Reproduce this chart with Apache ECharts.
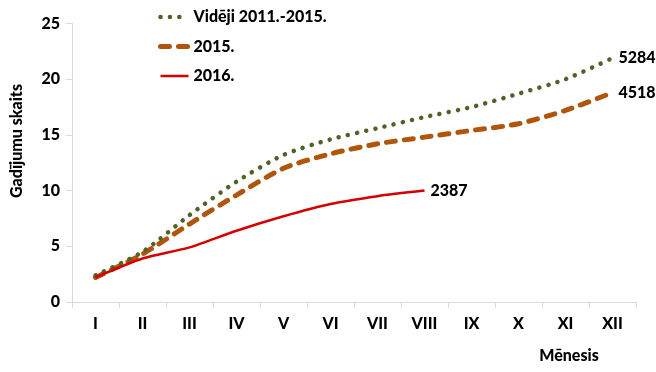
<!DOCTYPE html>
<html>
<head>
<meta charset="utf-8">
<script src="https://cdn.jsdelivr.net/npm/echarts@6/dist/echarts.min.js"></script>
<style>
html,body{margin:0;padding:0;background:#fff;}
#chart{width:656px;height:372px;}
</style>
</head>
<body>
<div id="chart"></div>
<script>
var months = ['I','II','III','IV','V','VI','VII','VIII','IX','X','XI','XII'];
var seriesNames = ['Vidēji 2011.-2015.', '2015.', '2016.'];
var avg2011_2015 = [2.4, 4.5, 7.8, 10.8, 13.2, 14.6, 15.6, 16.6, 17.5, 18.7, 20.0, 21.9];
var y2015 = [2.2, 4.3, 7.0, 9.6, 12.0, 13.3, 14.2, 14.8, 15.4, 16.0, 17.2, 18.8];
var y2016 = [2.2, 3.9, 4.9, 6.4, 7.7, 8.8, 9.5, 10.0];
var totals = ['5284', '4518', '2387'];
var yTicks = [0, 5, 10, 15, 20, 25];
var yTitle = 'Gadījumu skaits';
var xTitle = 'Mēnesis';

var FONT = 'Lato, "Open Sans", sans-serif';
var chart = echarts.init(document.getElementById('chart'), null, {renderer: 'canvas'});

function endLbl(i) {
  return {show: true, formatter: function () { return totals[i]; }, color: '#000', fontFamily: FONT, fontWeight: 900, fontSize: 16, distance: 6};
}

var styles = [
  {color: '#4f6228', width: 4.5, type: [0.1, 9.3], cap: 'round'},
  {color: '#b0560c', width: 5, type: [9, 9], cap: 'round'},
  {color: '#d40000', width: 2.5, type: 'solid', cap: 'butt'}
];

chart.setOption({
  animation: false,
  grid: {left: 72, right: 20, top: 23.5, bottom: 70, containLabel: false},
  legend: {
    orient: 'vertical', left: 158, top: 9, padding: 0,
    itemWidth: 28, itemHeight: 14, itemGap: 13.5,
    itemStyle: {opacity: 0},
    textStyle: {fontFamily: FONT, fontWeight: 900, fontSize: 16, color: '#000'},
    data: seriesNames.map(function (n, i) {
      return {name: n, lineStyle: {color: styles[i].color, width: styles[i].width, type: styles[i].type, cap: styles[i].cap}};
    })
  },
  xAxis: {
    type: 'category', data: months, boundaryGap: true,
    axisLine: {lineStyle: {color: '#d9d9d9', width: 1}},
    axisTick: {show: true, alignWithLabel: false, length: 6, lineStyle: {color: '#d9d9d9'}},
    axisLabel: {fontFamily: FONT, fontWeight: 900, fontSize: 16, color: '#000', margin: 14}
  },
  yAxis: {
    type: 'value', min: yTicks[0], max: yTicks[yTicks.length - 1], interval: 5,
    axisLine: {show: true, lineStyle: {color: '#d9d9d9'}},
    axisTick: {show: true, length: 6, lineStyle: {color: '#d9d9d9'}},
    splitLine: {show: false},
    axisLabel: {fontFamily: FONT, fontWeight: 900, fontSize: 16, color: '#000', margin: 12}
  },
  graphic: [
    {
      type: 'text', x: 17, y: 141, rotation: Math.PI / 2,
      style: {text: yTitle, font: '900 16px ' + FONT, fill: '#000', align: 'center', verticalAlign: 'middle'}
    },
    {
      type: 'text', x: 569, y: 356,
      style: {text: xTitle, font: '900 16px ' + FONT, fill: '#000', align: 'center', verticalAlign: 'middle'}
    }
  ],
  series: [
    {
      name: seriesNames[0], type: 'line', data: avg2011_2015, smooth: 0.25,
      symbol: 'none', color: styles[0].color, lineStyle: styles[0],
      endLabel: endLbl(0), z: 3
    },
    {
      name: seriesNames[1], type: 'line', data: y2015, smooth: 0.25,
      symbol: 'none', color: styles[1].color, lineStyle: styles[1],
      endLabel: endLbl(1), z: 2
    },
    {
      name: seriesNames[2], type: 'line', data: y2016, smooth: 0.25,
      symbol: 'none', color: styles[2].color, lineStyle: styles[2],
      endLabel: endLbl(2), z: 4
    }
  ]
});
</script>
</body>
</html>
